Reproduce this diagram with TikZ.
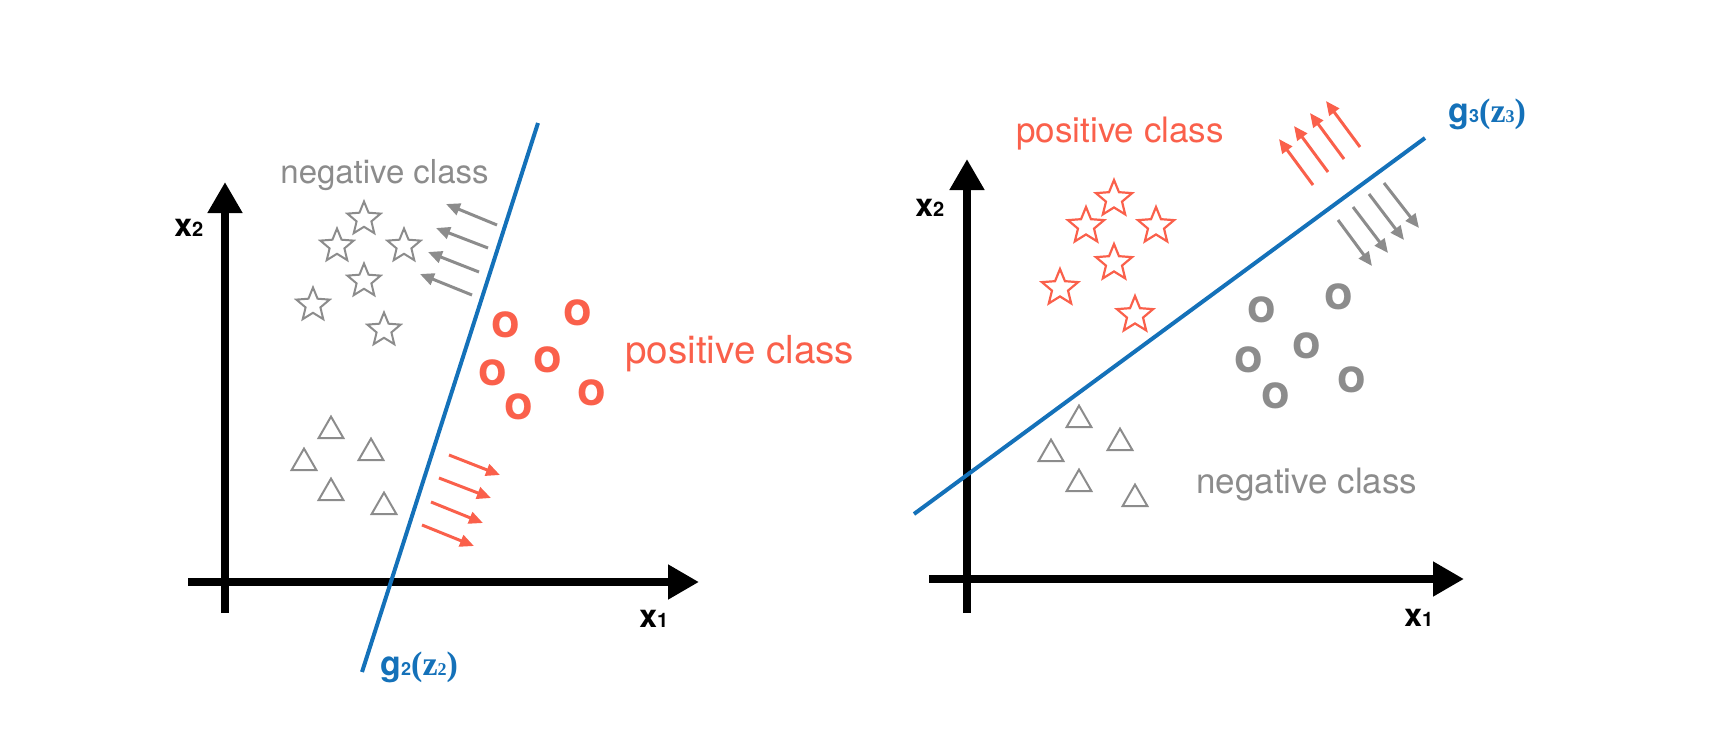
\documentclass[tikz,border=0pt]{standalone}
\usepackage{fontspec}
\setmainfont{TeX Gyre Heros}
\newfontfamily\zfont{Liberation Serif}
\usetikzlibrary{arrows.meta,shapes.geometric}
\definecolor{myred}{RGB}{250,96,75}
\definecolor{mygray}{RGB}{140,140,140}
\definecolor{myblue}{RGB}{20,113,185}
\begin{document}
\begin{tikzpicture}[x=0.5pt,y=-0.5pt,
  axisline/.style={line width=4pt,-{Triangle[length=15.5pt,width=16.5pt]}},
  sepline/.style={myblue,line width=2pt},
  garrow/.style={mygray,line width=1.5pt,-{Triangle[length=7pt,width=6pt]}},
  rarrow/.style={myred,line width=1.5pt,-{Triangle[length=7pt,width=6pt]}},
  gstar/.style={draw=mygray,line width=1pt,star,star points=5,star point ratio=2.25,minimum size=17.5pt,inner sep=0pt},
  rstar/.style={draw=myred,line width=1.1pt,star,star points=5,star point ratio=2.25,minimum size=19pt,inner sep=0pt},
  tri/.style={draw=mygray,line width=1pt,regular polygon,regular polygon sides=3,minimum size=14.4pt,inner sep=0pt},
  omark/.style={font=\fontsize{23.5}{24}\selectfont\bfseries,inner sep=0pt},
  ro/.style={omark,text=myred},
  go/.style={omark,text=mygray},
  lbl/.style={anchor=base west,inner sep=0pt},
  axlbl/.style={lbl,font=\fontsize{16}{16}\selectfont\bfseries},
  gz/.style={lbl,text=myblue,font=\fontsize{17}{17}\selectfont\bfseries}
]
\path[use as bounding box] (0,0) rectangle (1720,734);

% ---------- left panel ----------
\coordinate (ly0) at (225,613);
\coordinate (ly1) at (225,182);
\coordinate (lx0) at (188,582);
\coordinate (lx1) at (699,582);
\draw[axisline] (ly0) -- (ly1);
\draw[axisline] (lx0) -- (lx1);
\node[axlbl] (lxtwo) at (174,236) {x{\fontsize{10}{10}\selectfont 2}};
\node[axlbl] (lxone) at (639,627) {x{\fontsize{10}{10}\selectfont 1}};

\coordinate (lb0) at (362,672);
\coordinate (lb1) at (538,123);
\draw[sepline] (lb0) -- (lb1);
\node[gz] (gtwo) at (380,675) {g{\fontsize{9}{9}\selectfont 2}{\zfont(z{\fontsize{9}{9}\selectfont 2})}};

\node[lbl,text=mygray,font=\fontsize{16.5}{18}\selectfont] (lneg) at (280,183) {negative class};
\node[lbl,text=myred,font=\fontsize{19.3}{21}\selectfont] (lpos) at (625,363) {positive class};

\node[gstar] (ls1) at (364,219) {};
\node[gstar] (ls2) at (337,246) {};
\node[gstar] (ls3) at (404,246) {};
\node[gstar] (ls4) at (364,281) {};
\node[gstar] (ls5) at (313,305) {};
\node[gstar] (ls6) at (384,330) {};

\coordinate (lga1) at (497,225); \coordinate (lgb1) at (446,204);
\coordinate (lga2) at (488,248); \coordinate (lgb2) at (436,228);
\coordinate (lga3) at (479,272); \coordinate (lgb3) at (428,252);
\coordinate (lga4) at (472,295); \coordinate (lgb4) at (420,274);
\draw[garrow] (lga1) -- (lgb1);
\draw[garrow] (lga2) -- (lgb2);
\draw[garrow] (lga3) -- (lgb3);
\draw[garrow] (lga4) -- (lgb4);

\node[ro] (lo1) at (506,325) {o};
\node[ro] (lo2) at (578,313) {o};
\node[ro] (lo3) at (548,360) {o};
\node[ro] (lo4) at (493,373) {o};
\node[ro] (lo5) at (592,393) {o};
\node[ro] (lo6) at (519,407) {o};

\node[tri] (lt1) at (331,431) {};
\node[tri] (lt2) at (371,453) {};
\node[tri] (lt3) at (304,463) {};
\node[tri] (lt4) at (331,493) {};
\node[tri] (lt5) at (384,507) {};

\coordinate (lra1) at (449,455); \coordinate (lrb1) at (500,475);
\coordinate (lra2) at (439,478); \coordinate (lrb2) at (491,498);
\coordinate (lra3) at (431,502); \coordinate (lrb3) at (483,523);
\coordinate (lra4) at (422,525); \coordinate (lrb4) at (474,546);
\draw[rarrow] (lra1) -- (lrb1);
\draw[rarrow] (lra2) -- (lrb2);
\draw[rarrow] (lra3) -- (lrb3);
\draw[rarrow] (lra4) -- (lrb4);

% ---------- right panel ----------
\coordinate (ry0) at (967,613);
\coordinate (ry1) at (967,159);
\coordinate (rx0) at (929,579);
\coordinate (rx1) at (1464,579);
\draw[axisline] (ry0) -- (ry1);
\draw[axisline] (rx0) -- (rx1);
\node[axlbl] (rxtwo) at (915,216) {x{\fontsize{10}{10}\selectfont 2}};
\node[axlbl] (rxone) at (1404,626) {x{\fontsize{10}{10}\selectfont 1}};

\coordinate (rb0) at (914,514);
\coordinate (rb1) at (1425,138);
\draw[sepline] (rb0) -- (rb1);
\node[gz] (gthree) at (1448,122) {g{\fontsize{9}{9}\selectfont 3}{\zfont(z{\fontsize{9}{9}\selectfont 3})}};

\node[lbl,text=myred,font=\fontsize{17.5}{19}\selectfont] (rpos) at (1016,142) {positive class};
\node[lbl,text=mygray,font=\fontsize{17.5}{19}\selectfont] (rneg) at (1196,493) {negative class};

\node[rstar] (rs1) at (1114,199) {};
\node[rstar] (rs2) at (1086,226) {};
\node[rstar] (rs3) at (1156,226) {};
\node[rstar] (rs4) at (1114,263) {};
\node[rstar] (rs5) at (1060,288) {};
\node[rstar] (rs6) at (1135,315) {};

\coordinate (rra1) at (1313,185); \coordinate (rrb1) at (1279,139);
\coordinate (rra2) at (1328,172); \coordinate (rrb2) at (1294,126);
\coordinate (rra3) at (1344,159); \coordinate (rrb3) at (1310,113);
\coordinate (rra4) at (1360,147); \coordinate (rrb4) at (1326,101);
\draw[rarrow] (rra1) -- (rrb1);
\draw[rarrow] (rra2) -- (rrb2);
\draw[rarrow] (rra3) -- (rrb3);
\draw[rarrow] (rra4) -- (rrb4);

\coordinate (rga1) at (1338,220); \coordinate (rgb1) at (1372,266);
\coordinate (rga2) at (1353,207); \coordinate (rgb2) at (1388,253);
\coordinate (rga3) at (1369,194); \coordinate (rgb3) at (1404,240);
\coordinate (rga4) at (1384,183); \coordinate (rgb4) at (1419,228);
\draw[garrow] (rga1) -- (rgb1);
\draw[garrow] (rga2) -- (rgb2);
\draw[garrow] (rga3) -- (rgb3);
\draw[garrow] (rga4) -- (rgb4);

\node[go] (ro1) at (1262,310) {o};
\node[go] (ro2) at (1339,297) {o};
\node[go] (ro3) at (1249,360) {o};
\node[go] (ro4) at (1307,346) {o};
\node[go] (ro5) at (1276,396) {o};
\node[go] (ro6) at (1352,380) {o};

\node[tri] (rt1) at (1079,420) {};
\node[tri] (rt2) at (1120,443) {};
\node[tri] (rt3) at (1051,454) {};
\node[tri] (rt4) at (1079,484) {};
\node[tri] (rt5) at (1135,499) {};
\end{tikzpicture}
\end{document}
